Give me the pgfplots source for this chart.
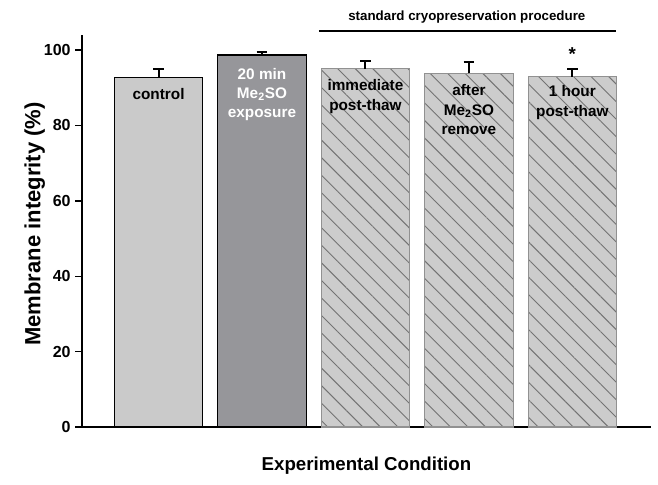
\documentclass[border=0pt]{standalone}
\usepackage{fontspec}
\setmainfont{Liberation Sans}
\usepackage{pgfplots}
\pgfplotsset{compat=1.18}
\usetikzlibrary{patterns.meta}
\definecolor{barA}{RGB}{202,202,202}
\definecolor{barB}{RGB}{150,150,154}
\definecolor{hatchfill}{RGB}{204,204,204}
\definecolor{hatchline}{RGB}{115,115,115}
\definecolor{hatchedge}{RGB}{145,145,145}
\newcommand{\lbl}{\fontsize{11.5}{14.5}\selectfont\bfseries}
\begin{document}
\begin{tikzpicture}
\useasboundingbox (-61.5pt,-43.5pt) rectangle (432pt,320.25pt);
\begin{axis}[
  at={(0,0)}, anchor=south west, scale only axis,
  width=426.75pt, height=294pt,
  xmin=-0.74, xmax=4.76, ymin=0, ymax=104,
  axis lines*=left,
  axis line style={-, line width=1pt},
  every outer x axis line/.append style={-},
  every outer y axis line/.append style={-},
  every inner x axis line/.append style={-},
  every inner y axis line/.append style={-},
  xtick=\empty, ytick={0,20,40,60,80,100},
  tick align=outside, major tick length=5pt,
  tick style={line width=1pt, black},
  ytick pos=left,
  /pgf/number format/assume math mode=true,
  yticklabel style={font=\fontsize{12}{14}\selectfont\bfseries},
  ylabel={Membrane integrity (\%)},
  ylabel style={font=\fontsize{16.5}{18}\selectfont\bfseries, at={(axis description cs:-0.083,0.518)}, anchor=center},
  xlabel={Experimental Condition},
  xlabel style={font=\fontsize{14}{16}\selectfont\bfseries, at={(axis description cs:0.5,-0.0995)}, anchor=center},
  clip=false,
  ybar, bar width=0.855,
  error bars/y dir=plus, error bars/y explicit,
  error bars/error bar style={line width=1.5pt, black},
  error bars/error mark options={rotate=90, mark size=4pt, line width=1.5pt, black},
]
\addplot[bar shift=0pt, fill=barA, draw=black, line width=0.8pt]
  coordinates {(0,92.7) +- (0,2.2)};
\addplot[bar shift=0pt, fill=barB, draw=black, line width=0.8pt]
  coordinates {(1,98.7) +- (0,0.8)};
\addplot[bar shift=0pt, fill=hatchfill, draw=hatchedge, line width=0.8pt,
  postaction={pattern={Lines[angle=-45,distance=9.3pt,line width=0.7pt]}, pattern color=hatchline}]
  coordinates {(2,95.0) +- (0,2.1) (3,93.8) +- (0,3.1) (4,92.9) +- (0,2.2)};

\node[font=\lbl, align=center, anchor=north, inner sep=0pt] at (axis cs:0,89.9) {control};
\node[font=\lbl, align=center, anchor=north, inner sep=0pt, text=white] at (axis cs:1,95.3) {20 min\\Me\textsubscript{2}SO\\exposure};
\node[font=\lbl, align=center, anchor=north, inner sep=0pt] at (axis cs:2,92.2) {immediate\\post-thaw};
\node[font=\lbl, align=center, anchor=north, inner sep=0pt] at (axis cs:3,90.9) {after\\Me\textsubscript{2}SO\\remove};
\node[font=\lbl, align=center, anchor=north, inner sep=0pt] at (axis cs:4,90.6) {1 hour\\post-thaw};

\draw[line width=1.2pt] (axis cs:1.55,105.1) -- (axis cs:4.42,105.1);
\node[font=\fontsize{10}{12}\selectfont\bfseries] at (axis cs:2.98,108.8) {standard cryopreservation procedure};
\node[font=\fontsize{14}{16}\selectfont\bfseries] at (axis cs:4,99) {*};
\end{axis}
\end{tikzpicture}
\end{document}
